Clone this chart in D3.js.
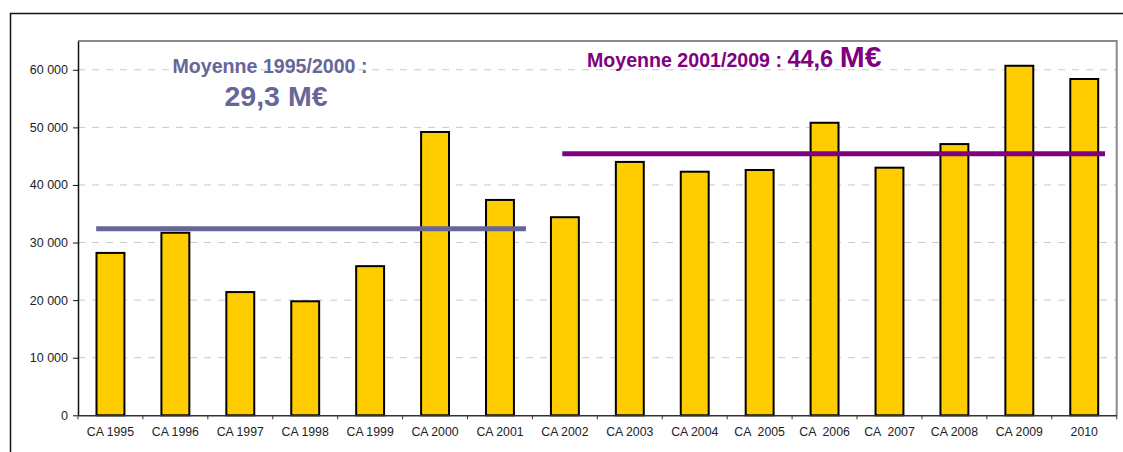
<!DOCTYPE html>
<html>
<head>
<meta charset="utf-8">
<script src="https://cdn.jsdelivr.net/npm/d3@7"></script>
<style>
  body { margin: 0; background: #fff; }
  svg { display: block; font-family: Arial, "Liberation Sans", sans-serif; }
</style>
</head>
<body>
<div id="chart"></div>
<script>
// chiffre d'affaires par année (k€)
const categories = ["CA 1995", "CA 1996", "CA 1997", "CA 1998", "CA 1999", "CA 2000", "CA 2001", "CA 2002",
  "CA 2003", "CA 2004", "CA  2005", "CA  2006", "CA  2007", "CA 2008", "CA 2009", "2010"];
const values = [28200, 31700, 21400, 19800, 25900, 49200, 37400, 34400,
  44000, 42300, 42600, 50800, 43000, 47100, 60700, 58400];
const yTicks = [0, 10000, 20000, 30000, 40000, 50000, 60000];

// lignes de moyenne : valeur, début et fin (en index de catégorie)
const avgValues = [32400, 45400];
const avgStart = [-0.22, 6.96];
const avgEnd = [6.4, 15.32];

const width = 1123, height = 452;
const plotLeft = 78, plotRight = 1116.7, plotTop = 41, plotBottom = 415.3;

const svg = d3.select("#chart").append("svg")
  .attr("width", width)
  .attr("height", height);

// cadre extérieur
svg.append("path")
  .attr("d", `M10.5,${height} V13.5 H${width}`)
  .attr("fill", "none")
  .attr("stroke", "#111")
  .attr("stroke-width", 1.5);

const x = d3.scaleBand()
  .domain(categories)
  .range([plotLeft, plotRight])
  .paddingInner(0.57)
  .paddingOuter(0.285);

const xIdx = d3.scaleLinear()
  .domain([-0.5, categories.length - 0.5])
  .range([plotLeft, plotRight]);

const y = d3.scaleLinear()
  .domain([0, 65000])
  .range([plotBottom, plotTop]);

const fmt = v => d3.format(",")(v).replace(/,/g, " ");

// grille
svg.append("g")
  .selectAll("line")
  .data(yTicks.filter(d => d > 0))
  .join("line")
  .attr("x1", plotLeft)
  .attr("x2", plotRight)
  .attr("y1", d => y(d))
  .attr("y2", d => y(d))
  .attr("stroke", "#c8c8c8")
  .attr("stroke-dasharray", "7 7");

// bordure de la zone de tracé
svg.append("path")
  .attr("d", `M${plotLeft},${plotTop} H${plotRight} V${plotBottom}`)
  .attr("fill", "none")
  .attr("stroke", "#8a8a8a")
  .attr("stroke-width", 2);

// axe Y
const yAxis = svg.append("g")
  .attr("transform", `translate(${plotLeft},0)`)
  .call(d3.axisLeft(y).tickValues(yTicks).tickSize(5).tickSizeOuter(0).tickFormat(fmt));
yAxis.select(".domain").attr("stroke", "#111").attr("stroke-width", 1.5);
yAxis.selectAll(".tick line").attr("stroke", "#111");
yAxis.selectAll("text")
  .attr("x", -10)
  .attr("font-size", 12.5)
  .attr("fill", "#222");

// barres
svg.append("g")
  .selectAll("rect")
  .data(values)
  .join("rect")
  .attr("x", (d, i) => x(categories[i]))
  .attr("y", d => y(d))
  .attr("width", x.bandwidth())
  .attr("height", d => y(0) - y(d))
  .attr("fill", "#FFCC00")
  .attr("stroke", "#000")
  .attr("stroke-width", 2);

// axe X
const xAxis = svg.append("g")
  .attr("transform", `translate(0,${plotBottom})`)
  .call(d3.axisBottom(x).tickSize(0).tickPadding(12));
xAxis.select(".domain").attr("stroke", "#333").attr("stroke-width", 1.5);
xAxis.selectAll("text")
  .attr("font-size", 12.3)
  .attr("fill", "#222")
  .style("white-space", "pre");

xAxis.selectAll(".bnd")
  .data(d3.range(categories.length + 1))
  .join("line")
  .attr("class", "bnd")
  .attr("x1", d => xIdx(d - 0.5))
  .attr("x2", d => xIdx(d - 0.5))
  .attr("y1", 0)
  .attr("y2", 4)
  .attr("stroke", "#333");

// moyennes
const avgColors = ["#666699", "#800080"];
svg.append("g")
  .selectAll("line")
  .data(avgValues)
  .join("line")
  .attr("x1", (d, i) => xIdx(avgStart[i]))
  .attr("x2", (d, i) => xIdx(avgEnd[i]))
  .attr("y1", d => y(d))
  .attr("y2", d => y(d))
  .attr("stroke", (d, i) => avgColors[i])
  .attr("stroke-width", 5);

svg.append("text")
  .attr("x", 270)
  .attr("y", 73)
  .attr("text-anchor", "middle")
  .attr("font-weight", "bold")
  .attr("font-size", 19.6)
  .attr("fill", avgColors[0])
  .text("Moyenne 1995/2000 :");

svg.append("text")
  .attr("x", 276)
  .attr("y", 106)
  .attr("text-anchor", "middle")
  .attr("font-weight", "bold")
  .attr("font-size", 28.5)
  .attr("fill", avgColors[0])
  .text("29,3 M€");

const t2 = svg.append("text")
  .attr("x", 587)
  .attr("y", 67)
  .attr("font-weight", "bold")
  .attr("fill", avgColors[1]);
t2.append("tspan").attr("font-size", 19.6).text("Moyenne 2001/2009 : ");
t2.append("tspan").attr("font-size", 23.5).text("44,6 ");
t2.append("tspan").attr("font-size", 30).text("M€");
</script>
</body>
</html>
